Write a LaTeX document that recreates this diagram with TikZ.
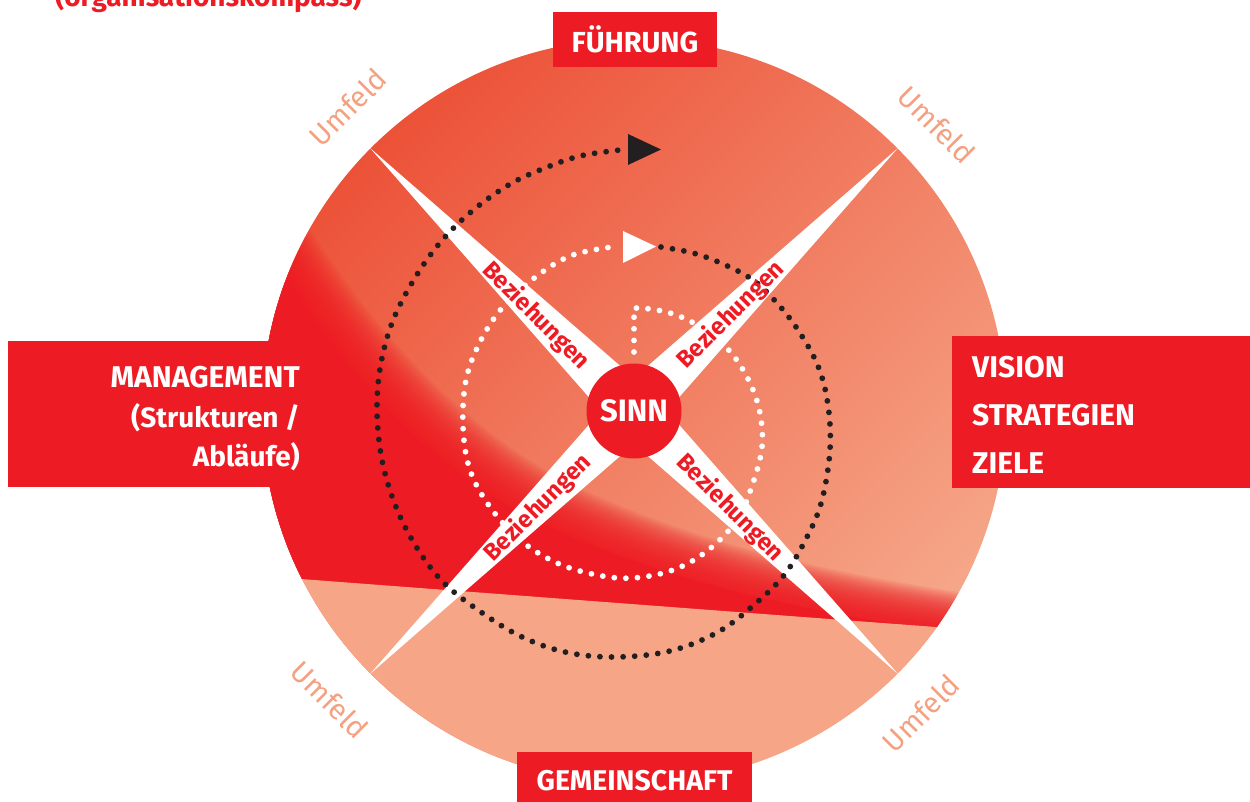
\documentclass[tikz,border=0pt]{standalone}
\usepackage{fontspec}
\setmainfont{Fira Sans}
\usetikzlibrary{positioning}
\definecolor{kompassred}{RGB}{237,28,36}
\definecolor{kompassorange}{RGB}{236,82,56}
\definecolor{kompasspeach}{RGB}{246,168,138}
\definecolor{kompasssalmon}{RGB}{246,165,135}
\definecolor{umfeldcol}{RGB}{245,160,128}
\definecolor{dotblack}{RGB}{35,31,32}

\tikzset{
  labelbox/.style={fill=kompassred, text=white, inner sep=0pt},
  headtext/.style={text=white, font=\bfseries\fontsize{#1}{#1}\selectfont, inner sep=0pt},
  armtext/.style={text=kompassred, font=\bfseries\fontsize{24}{26}\selectfont, inner sep=0pt},
  umfeld/.style={text=umfeldcol, font=\fontsize{29}{32}\selectfont, inner sep=0pt},
  spiral/.style={line width=5.8pt, line cap=round, dash pattern=on 0pt off 11.6pt},
  redzone/.style={insert path={(150,60) -- (230,190) .. controls (310,340) and (420,470) .. (555,530)
      .. controls (680,585) and (800,612) .. (1000,640) -- (1000,900) -- (150,900) -- cycle}},
}

\begin{document}
\begin{tikzpicture}[x=1pt, y=-1pt, line cap=round, line join=round]
    \useasboundingbox (0,0) rectangle (1250,802);
    % centre of the compass
    \coordinate (O) at (634,411);

    % disc with its colour fields
    \begin{scope}
        \clip (O) circle (372);
        \shade[left color=kompassorange, right color=kompasspeach, shading angle=45] (O) circle (372);
        \begin{scope}
            \clip (150,567.6) -- (1100,639.5) -- (1100,0) -- (150,0) -- cycle;
            \fill[kompassred] [redzone];
            \foreach \k in {1,...,26}
                \fill[kompassred, opacity=0.09, shift={(1.4*\k,-1.4*\k)}] [redzone];
        \end{scope}
        \fill[kompasssalmon] (150,567.6) -- (1100,639.5) -- (1100,900) -- (150,900) -- cycle;
    \end{scope}

    % the white cross
    \fill[white] (370,148) -- (634,378) -- (898,148) -- (667,411) -- (898,674)
        -- (634,444) -- (370,674) -- (601,411) -- cycle;

    % spiral, inner part white, outer part black
    \draw[spiral, white] (634,352) -- plot[smooth, tension=0.6] coordinates {(634,308) (650,309)
        (670,313) (690,321) (712,335) (733,355) (750,383) (760,413) (762,447) (753,483)
        (737,520) (707,551) (673,570) (633,578) (597,575) (557,563) (520,540) (490,507)
        (470,470) (463,427) (466,380) (480,342) (502,308) (533,279) (570,256) (612,247)};
    \fill[white] (623,231) -- (656,246.5) -- (623,263) -- cycle;
    \draw[spiral, dotblack] plot[smooth, tension=0.6] coordinates {(661,247) (693,253) (723,264)
        (753,280) (777,303) (798,330) (818,366) (828,405) (830,450) (822,500) (808,535)
        (785,574) (755,604) (718,632) (670,651) (615,657) (565,652) (520,636) (478,610)
        (443,582) (417,548) (396,507) (382,460) (377,410) (381,363) (394,318) (418,273)
        (445,237) (477,207) (512,183) (545,168) (580,156) (620,150)};
    \fill[dotblack] (628,134) -- (661,149.5) -- (628,165) -- cycle;

    % core
    \node[circle, fill=kompassred, minimum size=95, headtext=31] (sinn) at (O) {SINN};

    % relations along the arms
    \node[armtext, rotate=-45] (bez1) at (536,316) {Beziehungen};
    \node[armtext, rotate=45] (bez2) at (731,315) {Beziehungen};
    \node[armtext, rotate=45] (bez3) at (538,508) {Beziehungen};
    \node[armtext, rotate=-45] (bez4) at (730,508) {Beziehungen};

    % surroundings
    \node[umfeld, rotate=45] (umfeld1) at (348,107) {Umfeld};
    \node[umfeld, rotate=-45] (umfeld2) at (937,125) {Umfeld};
    \node[umfeld, rotate=-45] (umfeld3) at (330,700) {Umfeld};
    \node[umfeld, rotate=45] (umfeld4) at (921,713) {Umfeld};

    % the four fields
    \node[labelbox, minimum width=164, minimum height=55] (fuehrung) at (635,39.5) {};
    \node[headtext=29] at (fuehrung.center) {FÜHRUNG};
    \node[labelbox, minimum width=235, minimum height=60] (gemeinschaft) at (634.5,782) {};
    \node[headtext=28.5] at (634.5,781) {GEMEINSCHAFT};
    \node[labelbox, minimum width=302, minimum height=146] (management) at (159,414) {};
    \node[headtext=30, anchor=base east] (mgmt1) at (300,387) {MANAGEMENT};
    \node[headtext=28, anchor=base east] (mgmt2) at (300,427) {(Strukturen /};
    \node[headtext=28, anchor=base east] (mgmt3) at (300,466) {Abläufe)};
    \node[labelbox, minimum width=300, minimum height=152] (vision) at (1102,412) {};
    \node[headtext=30, anchor=base west] (vis1) at (972,377) {VISION};
    \node[headtext=30, anchor=base west] (vis2) at (972,425) {STRATEGIEN};
    \node[headtext=30, anchor=base west] (vis3) at (972,473) {ZIELE};

    % title, cut at the top
    \node[text=kompassred, font=\bfseries\fontsize{28}{30}\selectfont, inner sep=0pt, anchor=base west] (title) at (55,7) {(organisationskompass)};
\end{tikzpicture}
\end{document}
